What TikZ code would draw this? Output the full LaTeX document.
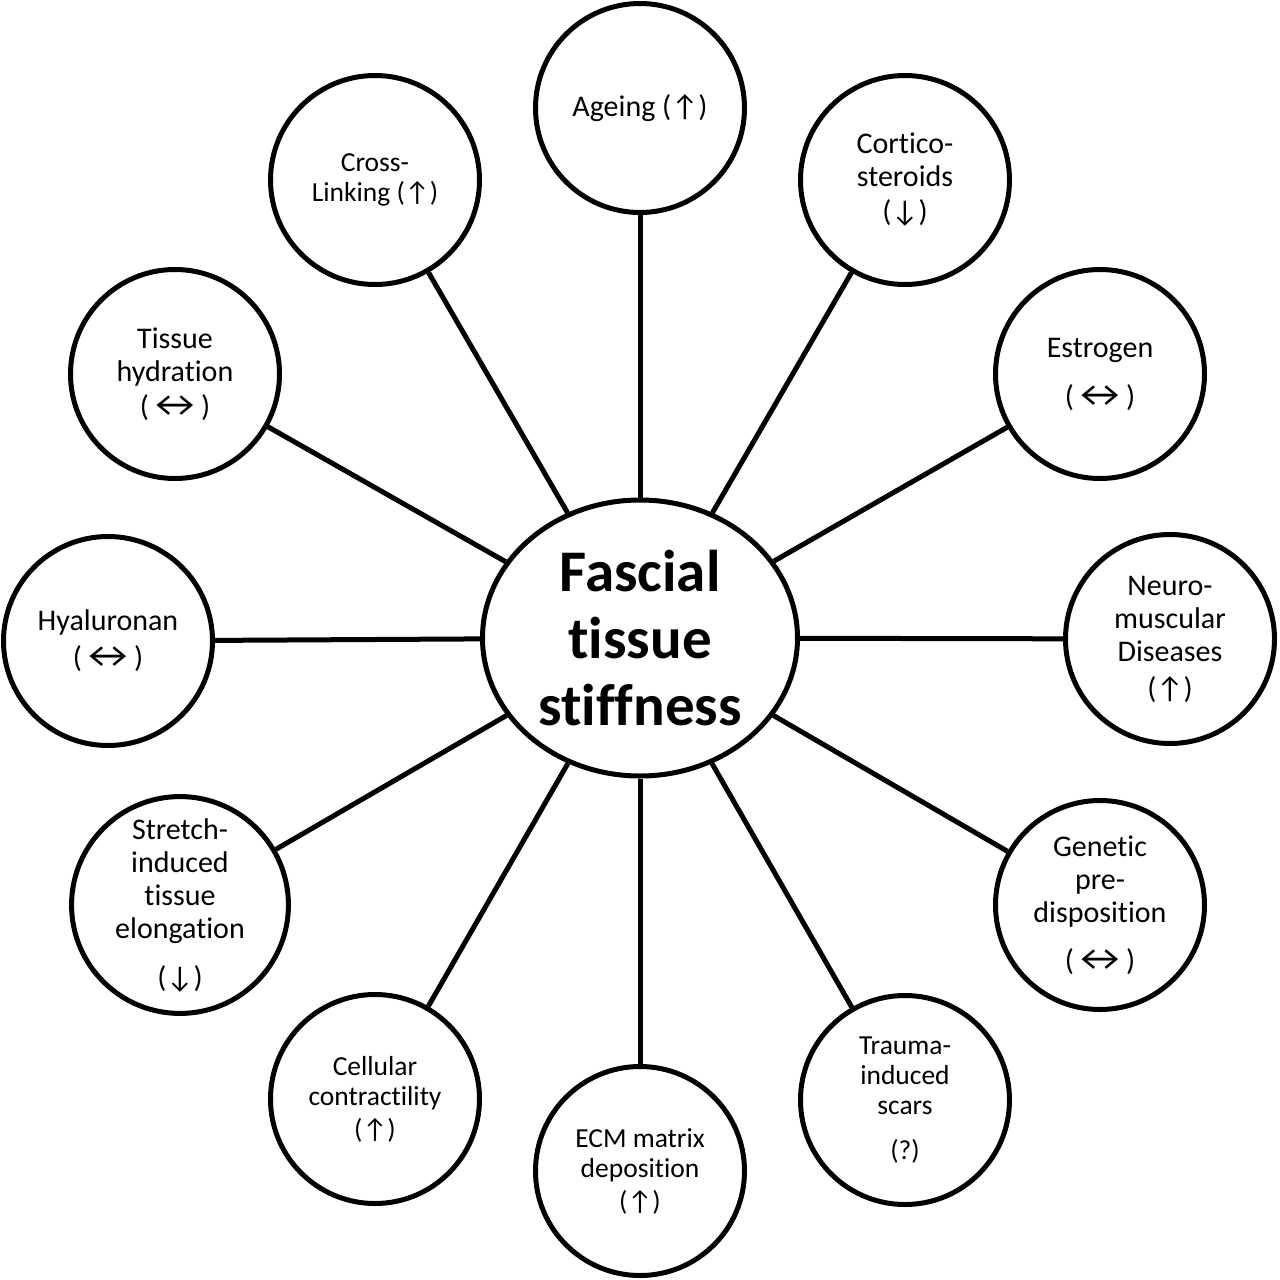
\documentclass[tikz,border=0pt]{standalone}
\usepackage{fontspec}
\setmainfont[Ligatures={NoCommon}]{Carlito}
\usetikzlibrary{shapes.geometric}
\newcommand\lrarr{\kern-2pt\scalebox{1.45}[1.2]{↔}\kern-2pt}
\tikzset{
  factor/.style={circle, draw, line width=5pt, minimum size=209pt, inner sep=0pt, align=center, font=\fontsize{30}{33}\selectfont},
  factorsm/.style={factor, font=\fontsize{27.5}{30}\selectfont},
  hub/.style={ellipse, draw, line width=5pt, minimum width=315pt, minimum height=276pt, inner sep=0pt, align=center, font=\bfseries\fontsize{59}{67}\selectfont},
  spoke/.style={line width=5pt}
}
\begin{document}
\begin{tikzpicture}[x=1pt,y=-1pt]
\fill[white] (0,0) rectangle (1280,1280);
\useasboundingbox (0,0) rectangle (1280,1280);
\node[hub] (ctr) at (640,638) {Fascial\\tissue\\stif\kern0ptf\kern0ptness};
\node[factor] (ageing) at (640,108) {Ageing (↑)};
\node[factor] (cortico) at (905,180) {Cortico-\\steroids\\[2pt](↓)};
\node[factor] (estrogen) at (1100,374) {Estrogen\\[16pt](\lrarr)};
\node[factor] (neuro) at (1170,639) {Neuro-\\muscular\\Diseases\\[4pt](↑)};
\node[factor] (genetic) at (1100,905) {Genetic\\pre-\\disposition\\[15pt](\lrarr)};
\node[factorsm] (trauma) at (905,1100) {Trauma-\\induced\\scars\\[15pt](?)};
\node[factorsm] (ecm) at (640,1171) {ECM matrix\\deposition\\[3pt](↑)};
\node[factorsm] (cellular) at (375,1099) {Cellular\\contractility\\[3pt](↑)};
\node[factor] (stretch) at (180,905) {Stretch-\\induced\\tissue\\elongation\\[16pt](↓)};
\node[factor] (hyal) at (108,641) {Hyaluronan\\[4pt](\lrarr)};
\node[factor] (tissue) at (175,374) {Tissue\\hydration\\[2pt](\lrarr)};
\node[factorsm] (cross) at (375,180) {Cross-\\Linking (↑)};
\foreach \n in {ageing,cortico,estrogen,neuro,genetic,trauma,ecm,cellular,stretch,hyal,tissue,cross}
  \draw[spoke] (ctr) -- (\n);
\end{tikzpicture}
\end{document}
